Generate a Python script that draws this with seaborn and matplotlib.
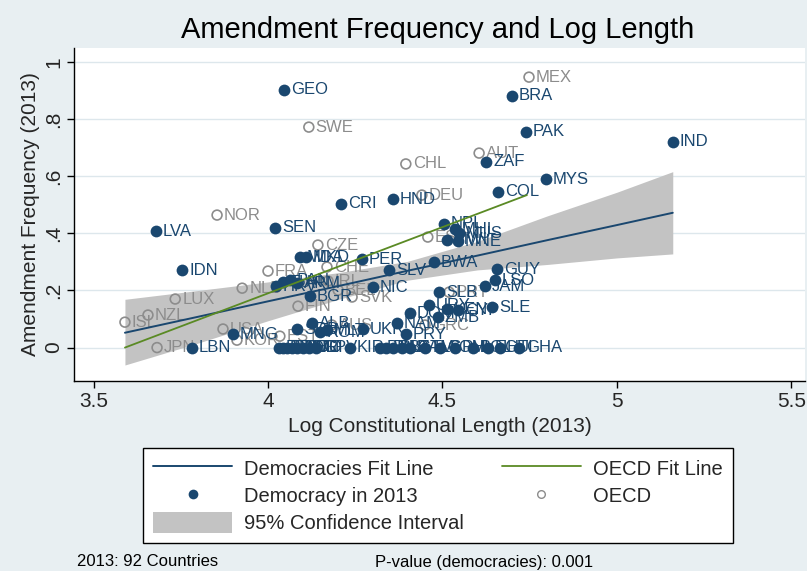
import matplotlib
matplotlib.use("Agg")
import matplotlib.pyplot as plt
import seaborn as sns
import pandas as pd
from matplotlib.lines import Line2D
from matplotlib.patches import Patch

# ---------------- data ----------------
dem_codes = ["GEO", "BRA", "PAK", "IND", "ZAF", "MYS", "COL", "HND", "CRI", "LVA",
             "SEN", "NPL", "MUS", "MHL", "MWI", "MNE", "PER", "MDA", "MKD", "SLV",
             "BWA", "NIC", "BGR", "HRV", "TUN", "PAN", "ARM", "IDN", "GUY", "LSO",
             "JAM", "SLB", "URY", "KEN", "CYP", "SLE", "ZMB", "DOM", "NAM", "PRY",
             "ALB", "SRB", "ROM", "MLT", "UKR", "MNG", "LBN",
             "BEN", "BFA", "BGD", "MDG", "NER", "TTO", "MLI", "CPV", "KIR", "BRB",
             "BHS", "BLZ", "LKA", "GTM", "TLS", "COM", "PHL", "BOL", "ECU", "HTI", "GHA"]
dem_x = [4.046, 4.699, 4.739, 5.160, 4.625, 4.797, 4.659, 4.358, 4.209, 3.679,
         4.020, 4.504, 4.547, 4.536, 4.513, 4.544, 4.269, 4.092, 4.109, 4.347,
         4.476, 4.301, 4.120, 4.023, 4.043, 4.063, 4.083, 3.754, 4.656, 4.650,
         4.622, 4.490, 4.461, 4.513, 4.544, 4.642, 4.487, 4.407, 4.370, 4.395,
         4.126, 4.083, 4.149, 4.169, 4.272, 3.900, 3.782,
         4.032, 4.043, 4.054, 4.069, 4.083, 4.100, 4.117, 4.138, 4.235, 4.321,
         4.338, 4.358, 4.384, 4.407, 4.450, 4.493, 4.536, 4.587, 4.630, 4.665, 4.719]
dem_y = [0.902, 0.881, 0.755, 0.720, 0.650, 0.590, 0.545, 0.520, 0.503, 0.408,
         0.419, 0.433, 0.401, 0.415, 0.377, 0.373, 0.310, 0.317, 0.317, 0.271,
         0.299, 0.212, 0.180, 0.215, 0.229, 0.236, 0.226, 0.271, 0.275, 0.236,
         0.215, 0.194, 0.149, 0.135, 0.131, 0.142, 0.107, 0.121, 0.086, 0.047,
         0.086, 0.065, 0.054, 0.061, 0.065, 0.047, 0.0,
         0.0, 0.0, 0.0, 0.0, 0.0, 0.0, 0.0, 0.0, 0.0, 0.0,
         0.0, 0.0, 0.0, 0.0, 0.0, 0.0, 0.0, 0.0, 0.0, 0.0, 0.0]

oecd_codes = ["MEX", "SWE", "CHL", "AUT", "DEU", "NOR", "ESP", "CZE", "FRA", "NLD",
              "LUX", "NZL", "ISL", "JPN", "USA", "KOR", "EST", "FIN", "AUS", "GRC",
              "CHE", "IRL", "SVK", "BEL", "PRT"]
oecd_x = [4.748, 4.117, 4.395, 4.605, 4.441, 3.854, 4.458, 4.143, 4.000, 3.926,
          3.734, 3.656, 3.590, 3.682, 3.871, 3.911, 4.034, 4.086, 4.183, 4.450,
          4.169, 4.172, 4.241, 4.201, 4.519]
oecd_y = [0.947, 0.772, 0.643, 0.681, 0.534, 0.464, 0.387, 0.359, 0.268, 0.208,
          0.170, 0.114, 0.089, 0.0, 0.065, 0.026, 0.040, 0.145, 0.079, 0.079,
          0.282, 0.233, 0.177, 0.201, 0.194]

# Democracies fit line with 95% CI
fit_x = [3.59, 3.80, 4.00, 4.20, 4.40, 4.60, 4.80, 5.00, 5.16]
fit_y = [0.052, 0.108, 0.162, 0.215, 0.269, 0.322, 0.376, 0.429, 0.472]
ci_lo = [-0.061, 0.016, 0.094, 0.168, 0.236, 0.272, 0.291, 0.314, 0.328]
ci_hi = [0.169, 0.200, 0.230, 0.262, 0.302, 0.372, 0.461, 0.544, 0.616]

# OECD fit line
oecd_fit_x = [3.59, 4.742]
oecd_fit_y = [0.0, 0.534]

x_ticks = [3.5, 4, 4.5, 5, 5.5]
x_ticklabels = ["3.5", "4", "4.5", "5", "5.5"]
y_ticks = [0, 0.2, 0.4, 0.6, 0.8, 1]
y_ticklabels = ["0", ".2", ".4", ".6", ".8", "1"]

# ---------------- style ----------------
NAVY = "#1a476f"
GREY = "#8c8c8c"
GREEN = "#5a8a24"
BAND = "#c3c3c3"
BG = "#e8eff2"
GRID = "#dde7ec"

sns.set_theme(style="white")
plt.rcParams["font.family"] = ["Liberation Sans", "DejaVu Sans"]

W, H = 807, 571
fig = plt.figure(figsize=(W / 100, H / 100), dpi=100)
fig.patch.set_facecolor(BG)
ax = fig.add_axes([74 / W, 1 - 381 / H, (805 - 74) / W, (381 - 48) / H])
ax.set_facecolor("white")

dem_df = pd.DataFrame({"code": dem_codes, "x": dem_x, "y": dem_y})
oecd_df = pd.DataFrame({"code": oecd_codes, "x": oecd_x, "y": oecd_y})
fit_df = pd.DataFrame({"x": fit_x, "y": fit_y, "lo": ci_lo, "hi": ci_hi})
ofit_df = pd.DataFrame({"x": oecd_fit_x, "y": oecd_fit_y})

# grid
for yt in y_ticks:
    ax.axhline(yt, color=GRID, lw=1.0, zorder=0)

# CI band
ax.fill_between(fit_df["x"], fit_df["lo"], fit_df["hi"], color=BAND, lw=0, zorder=1)

# OECD points (hollow)
sns.scatterplot(data=oecd_df, x="x", y="y", ax=ax, marker="o", s=50,
                facecolors="none", edgecolor=GREY, linewidth=1.2, zorder=3, legend=False)
for c, xv, yv in zip(oecd_codes, oecd_x, oecd_y):
    ax.annotate(c, (xv, yv), xytext=(5, 0), textcoords="offset points",
                ha="left", va="center", fontsize=12, color=GREY, zorder=3)

# Democracy points (filled)
sns.scatterplot(data=dem_df, x="x", y="y", ax=ax, marker="o", s=72,
                color=NAVY, edgecolor=NAVY, linewidth=0, zorder=4, legend=False)
for c, xv, yv in zip(dem_codes, dem_x, dem_y):
    ax.annotate(c, (xv, yv), xytext=(5, 0), textcoords="offset points",
                ha="left", va="center", fontsize=12, color=NAVY, zorder=4)

# Fit lines
sns.lineplot(data=fit_df, x="x", y="y", ax=ax, color=NAVY, lw=1.4, zorder=5,
             estimator=None, sort=False)
sns.lineplot(data=ofit_df, x="x", y="y", ax=ax, color=GREEN, lw=1.3, zorder=5,
             estimator=None, sort=False)

# axes
ax.set_xlim(3.444, 5.539)
ax.set_ylim(-0.117, 1.049)
ax.set_xticks(x_ticks)
ax.set_xticklabels(x_ticklabels, fontsize=15)
ax.set_yticks(y_ticks)
ax.set_yticklabels(y_ticklabels, fontsize=15, rotation=90, va="center")
ax.tick_params(axis="both", direction="out", length=5, width=1, color="black",
               bottom=True, left=True, pad=3)
for side in ["top", "right"]:
    ax.spines[side].set_visible(False)
for side in ["left", "bottom"]:
    ax.spines[side].set_color("black")
    ax.spines[side].set_linewidth(1.0)
ax.set_xlabel("Log Constitutional Length (2013)", fontsize=15, labelpad=4)
ax.set_ylabel("Amendment Frequency (2013)", fontsize=15, labelpad=3)

fig.text(438 / W, 1 - 30 / H, "Amendment Frequency and Log Length",
         ha="center", va="center", fontsize=21, color="black")

# legend
handles = [
    Line2D([0], [0], color=NAVY, lw=1.4),
    Line2D([0], [0], color=NAVY, marker="o", ls="none", markersize=7, markeredgewidth=0),
    Patch(facecolor=BAND, edgecolor="none"),
    Line2D([0], [0], color=GREEN, lw=1.3),
    Line2D([0], [0], color=GREY, marker="o", ls="none", markersize=5.5,
           markerfacecolor="none", markeredgewidth=1.0),
]
labels = ["Democracies Fit Line", "Democracy in 2013", "95% Confidence Interval",
          "OECD Fit Line", "OECD"]
leg = fig.legend(handles, labels, ncol=2, loc="center",
                 bbox_to_anchor=(438 / W, 1 - 495.5 / H), fontsize=14.5,
                 frameon=True, fancybox=False, edgecolor="black", facecolor="white",
                 framealpha=1, handlelength=3.9, handleheight=1.2, handletextpad=0.6,
                 columnspacing=1.9, labelspacing=0.3, borderpad=0.5)
leg.get_frame().set_linewidth(1.0)

fig.text(77 / W, 1 - 562 / H, "2013: 92 Countries", ha="left", va="center",
         fontsize=12, color="black")
fig.text(375 / W, 1 - 562 / H, "P-value (democracies): 0.001", ha="left", va="center",
         fontsize=12, color="black")

fig.savefig("out.png", dpi=100, facecolor=BG)
